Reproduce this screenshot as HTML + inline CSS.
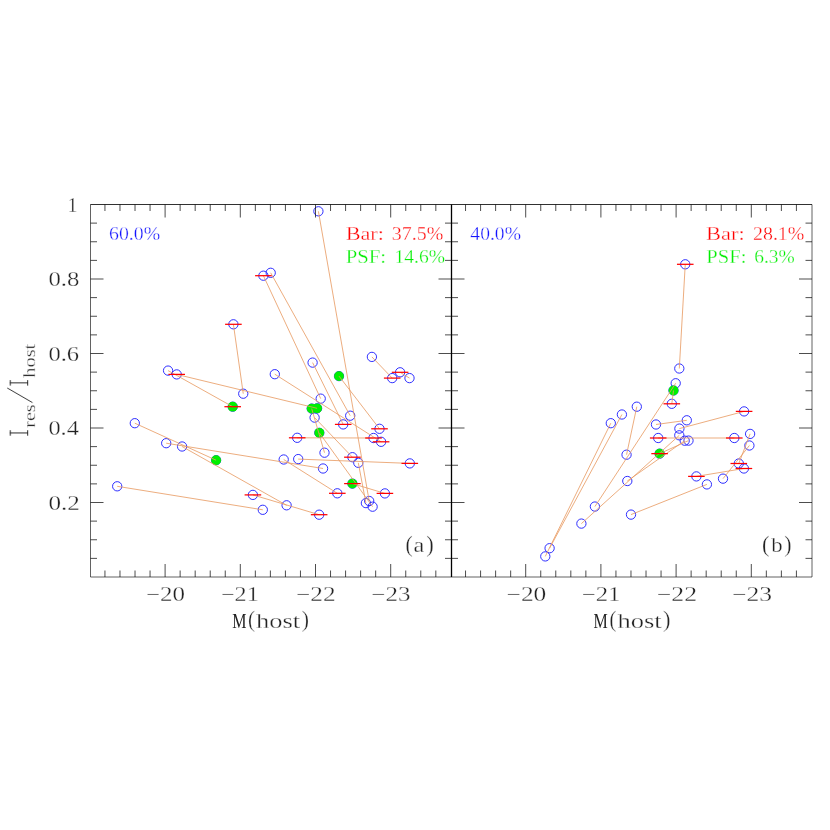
<!DOCTYPE html>
<html><head><meta charset="utf-8"><title>plot</title>
<style>
html,body{margin:0;padding:0;background:#fff;}
body{width:830px;height:830px;overflow:hidden;font-family:"Liberation Serif",serif;}
svg{display:block;}
text{font-family:"Liberation Serif",serif;}
</style></head><body>
<svg width="830" height="830" viewBox="0 0 830 830">
<rect x="0" y="0" width="830" height="830" fill="#fff"/>

<g fill="none" stroke="#2424ff" stroke-width="0.95">
<circle cx="318.4" cy="211.3" r="4.65"/>
<circle cx="263.4" cy="275.7" r="4.65"/>
<circle cx="270.7" cy="272.8" r="4.65"/>
<circle cx="233.4" cy="324.3" r="4.65"/>
<circle cx="243.25" cy="393.7" r="4.65"/>
<circle cx="168.07" cy="370.6" r="4.65"/>
<circle cx="232.7" cy="406.7" r="4.65"/>
<circle cx="176.7" cy="374.4" r="4.65"/>
<circle cx="317.1" cy="408.3" r="4.65"/>
<circle cx="274.8" cy="374.2" r="4.65"/>
<circle cx="381.1" cy="441.8" r="4.65"/>
<circle cx="312.6" cy="362.6" r="4.65"/>
<circle cx="343.2" cy="424.4" r="4.65"/>
<circle cx="371.9" cy="356.9" r="4.65"/>
<circle cx="392.2" cy="378.1" r="4.65"/>
<circle cx="400.1" cy="372.3" r="4.65"/>
<circle cx="409.5" cy="378.1" r="4.65"/>
<circle cx="339" cy="376.1" r="4.65"/>
<circle cx="379.5" cy="428.8" r="4.65"/>
<circle cx="311.7" cy="408.6" r="4.65"/>
<circle cx="324.5" cy="452.7" r="4.65"/>
<circle cx="314.6" cy="417.6" r="4.65"/>
<circle cx="352.4" cy="457.2" r="4.65"/>
<circle cx="319.3" cy="432.8" r="4.65"/>
<circle cx="372.6" cy="506.7" r="4.65"/>
<circle cx="297.2" cy="437.8" r="4.65"/>
<circle cx="373.5" cy="438" r="4.65"/>
<circle cx="134.8" cy="423.2" r="4.65"/>
<circle cx="216.1" cy="460.2" r="4.65"/>
<circle cx="166.2" cy="443.2" r="4.65"/>
<circle cx="323.05" cy="468.5" r="4.65"/>
<circle cx="182.1" cy="446.5" r="4.65"/>
<circle cx="286.6" cy="505.3" r="4.65"/>
<circle cx="117.2" cy="486.3" r="4.65"/>
<circle cx="262.8" cy="509.8" r="4.65"/>
<circle cx="283.7" cy="459.5" r="4.65"/>
<circle cx="337.3" cy="493.3" r="4.65"/>
<circle cx="298.2" cy="459.1" r="4.65"/>
<circle cx="409.8" cy="463.4" r="4.65"/>
<circle cx="252.9" cy="494.9" r="4.65"/>
<circle cx="319.15" cy="514.7" r="4.65"/>
<circle cx="352.4" cy="483.6" r="4.65"/>
<circle cx="384.9" cy="493.4" r="4.65"/>
<circle cx="358.3" cy="462.8" r="4.65"/>
<circle cx="365.9" cy="503.1" r="4.65"/>
<circle cx="320.7" cy="398.65" r="4.65"/>
<circle cx="350.2" cy="415.7" r="4.65"/>
<circle cx="369.2" cy="501" r="4.65"/>
</g>
<g fill="#00f000" stroke="none">
<circle cx="232.7" cy="406.7" r="4.9"/>
<circle cx="317.1" cy="408.3" r="4.9"/>
<circle cx="339" cy="376.1" r="4.9"/>
<circle cx="311.7" cy="408.6" r="4.9"/>
<circle cx="319.3" cy="432.8" r="4.9"/>
<circle cx="216.1" cy="460.2" r="4.9"/>
<circle cx="352.4" cy="483.6" r="4.9"/>
</g>
<g stroke="#e89a62" stroke-width="0.82" fill="none">
<line x1="318.4" y1="211.3" x2="369.2" y2="501"/>
<line x1="263.4" y1="275.7" x2="320.7" y2="398.65"/>
<line x1="270.7" y1="272.8" x2="350.2" y2="415.7"/>
<line x1="233.4" y1="324.3" x2="243.25" y2="393.7"/>
<line x1="168.07" y1="370.6" x2="232.7" y2="406.7"/>
<line x1="176.7" y1="374.4" x2="317.1" y2="408.3"/>
<line x1="274.8" y1="374.2" x2="381.1" y2="441.8"/>
<line x1="312.6" y1="362.6" x2="343.2" y2="424.4"/>
<line x1="371.9" y1="356.9" x2="392.2" y2="378.1"/>
<line x1="400.1" y1="372.3" x2="409.5" y2="378.1"/>
<line x1="339" y1="376.1" x2="379.5" y2="428.8"/>
<line x1="311.7" y1="408.6" x2="324.5" y2="452.7"/>
<line x1="314.6" y1="417.6" x2="352.4" y2="457.2"/>
<line x1="319.3" y1="432.8" x2="372.6" y2="506.7"/>
<line x1="297.2" y1="437.8" x2="373.5" y2="438"/>
<line x1="134.8" y1="423.2" x2="216.1" y2="460.2"/>
<line x1="166.2" y1="443.2" x2="323.05" y2="468.5"/>
<line x1="182.1" y1="446.5" x2="286.6" y2="505.3"/>
<line x1="117.2" y1="486.3" x2="262.8" y2="509.8"/>
<line x1="283.7" y1="459.5" x2="337.3" y2="493.3"/>
<line x1="298.2" y1="459.1" x2="409.8" y2="463.4"/>
<line x1="252.9" y1="494.9" x2="319.15" y2="514.7"/>
<line x1="352.4" y1="483.6" x2="384.9" y2="493.4"/>
<line x1="358.3" y1="462.8" x2="365.9" y2="503.1"/>
</g>
<g stroke="#ff0000" stroke-width="1.25" fill="none">
<line x1="255.1" y1="275.7" x2="271.7" y2="275.7"/>
<line x1="225.1" y1="324.3" x2="241.7" y2="324.3"/>
<line x1="224.4" y1="406.7" x2="241" y2="406.7"/>
<line x1="168.4" y1="374.4" x2="185" y2="374.4"/>
<line x1="372.8" y1="441.8" x2="389.4" y2="441.8"/>
<line x1="334.9" y1="424.4" x2="351.5" y2="424.4"/>
<line x1="383.9" y1="378.1" x2="400.5" y2="378.1"/>
<line x1="391.8" y1="372.3" x2="408.4" y2="372.3"/>
<line x1="371.2" y1="428.8" x2="387.8" y2="428.8"/>
<line x1="344.1" y1="457.2" x2="360.7" y2="457.2"/>
<line x1="288.9" y1="437.8" x2="305.5" y2="437.8"/>
<line x1="365.2" y1="438" x2="381.8" y2="438"/>
<line x1="329" y1="493.3" x2="345.6" y2="493.3"/>
<line x1="401.5" y1="463.4" x2="418.1" y2="463.4"/>
<line x1="244.6" y1="494.9" x2="261.2" y2="494.9"/>
<line x1="310.85" y1="514.7" x2="327.45" y2="514.7"/>
<line x1="344.1" y1="483.6" x2="360.7" y2="483.6"/>
<line x1="376.6" y1="493.4" x2="393.2" y2="493.4"/>
</g>
<g fill="none" stroke="#2424ff" stroke-width="0.95">
<circle cx="685.25" cy="264.3" r="4.65"/>
<circle cx="679.3" cy="368.5" r="4.65"/>
<circle cx="675.7" cy="383.25" r="4.65"/>
<circle cx="673.5" cy="390.5" r="4.65"/>
<circle cx="671.8" cy="403.8" r="4.65"/>
<circle cx="744.1" cy="411.4" r="4.65"/>
<circle cx="686.8" cy="420.3" r="4.65"/>
<circle cx="656" cy="424.5" r="4.65"/>
<circle cx="679.4" cy="428.6" r="4.65"/>
<circle cx="658.2" cy="438" r="4.65"/>
<circle cx="679.3" cy="435.3" r="4.65"/>
<circle cx="684.7" cy="440.7" r="4.65"/>
<circle cx="688.5" cy="440.6" r="4.65"/>
<circle cx="734.3" cy="438" r="4.65"/>
<circle cx="750.1" cy="433.9" r="4.65"/>
<circle cx="749.4" cy="445.5" r="4.65"/>
<circle cx="659.6" cy="453.65" r="4.65"/>
<circle cx="738.8" cy="463.5" r="4.65"/>
<circle cx="743.9" cy="468.5" r="4.65"/>
<circle cx="610.8" cy="423.2" r="4.65"/>
<circle cx="621.9" cy="414.5" r="4.65"/>
<circle cx="636.8" cy="406.7" r="4.65"/>
<circle cx="626.55" cy="454.7" r="4.65"/>
<circle cx="627.3" cy="481" r="4.65"/>
<circle cx="549.6" cy="548.2" r="4.65"/>
<circle cx="545.3" cy="556.4" r="4.65"/>
<circle cx="594.9" cy="506.55" r="4.65"/>
<circle cx="581.4" cy="523.6" r="4.65"/>
<circle cx="631" cy="514.6" r="4.65"/>
<circle cx="696.4" cy="476.4" r="4.65"/>
<circle cx="706.9" cy="484.4" r="4.65"/>
<circle cx="723" cy="478.65" r="4.65"/>
</g>
<g fill="#00f000" stroke="none">
<circle cx="673.5" cy="390.5" r="4.9"/>
<circle cx="659.6" cy="453.65" r="4.9"/>
</g>
<g stroke="#e89a62" stroke-width="0.82" fill="none">
<line x1="685.25" y1="264.3" x2="679.3" y2="368.5"/>
<line x1="675.7" y1="383.25" x2="594.9" y2="506.55"/>
<line x1="673.5" y1="390.5" x2="671.8" y2="403.8"/>
<line x1="656" y1="424.5" x2="686.8" y2="420.3"/>
<line x1="679.4" y1="428.6" x2="744.1" y2="411.4"/>
<line x1="658.2" y1="438" x2="734.3" y2="438"/>
<line x1="610.8" y1="423.2" x2="545.3" y2="556.4"/>
<line x1="621.9" y1="414.5" x2="549.6" y2="548.2"/>
<line x1="636.8" y1="406.7" x2="626.55" y2="454.7"/>
<line x1="581.4" y1="523.6" x2="679.3" y2="435.3"/>
<line x1="627.3" y1="481" x2="684.7" y2="440.7"/>
<line x1="659.6" y1="453.65" x2="688.5" y2="440.6"/>
<line x1="750.1" y1="433.9" x2="738.8" y2="463.5"/>
<line x1="749.4" y1="445.5" x2="723" y2="478.65"/>
<line x1="696.4" y1="476.4" x2="743.9" y2="468.5"/>
<line x1="706.9" y1="484.4" x2="631" y2="514.6"/>
</g>
<g stroke="#ff0000" stroke-width="1.25" fill="none">
<line x1="676.95" y1="264.3" x2="693.55" y2="264.3"/>
<line x1="663.5" y1="403.8" x2="680.1" y2="403.8"/>
<line x1="735.8" y1="411.4" x2="752.4" y2="411.4"/>
<line x1="649.9" y1="438" x2="666.5" y2="438"/>
<line x1="726" y1="438" x2="742.6" y2="438"/>
<line x1="651.3" y1="453.65" x2="667.9" y2="453.65"/>
<line x1="730.5" y1="463.5" x2="747.1" y2="463.5"/>
<line x1="735.6" y1="468.5" x2="752.2" y2="468.5"/>
<line x1="688.1" y1="476.4" x2="704.7" y2="476.4"/>
</g>
<path d="M104.94 204.5 v6.5 M104.94 577 v-6.5 M119.98 204.5 v6.5 M119.98 577 v-6.5 M135.02 204.5 v6.5 M135.02 577 v-6.5 M150.06 204.5 v6.5 M150.06 577 v-6.5 M165.1 204.5 v13 M165.1 577 v-13 M180.14 204.5 v6.5 M180.14 577 v-6.5 M195.18 204.5 v6.5 M195.18 577 v-6.5 M210.22 204.5 v6.5 M210.22 577 v-6.5 M225.26 204.5 v6.5 M225.26 577 v-6.5 M240.3 204.5 v13 M240.3 577 v-13 M255.34 204.5 v6.5 M255.34 577 v-6.5 M270.38 204.5 v6.5 M270.38 577 v-6.5 M285.42 204.5 v6.5 M285.42 577 v-6.5 M300.46 204.5 v6.5 M300.46 577 v-6.5 M315.5 204.5 v13 M315.5 577 v-13 M330.54 204.5 v6.5 M330.54 577 v-6.5 M345.58 204.5 v6.5 M345.58 577 v-6.5 M360.62 204.5 v6.5 M360.62 577 v-6.5 M375.66 204.5 v6.5 M375.66 577 v-6.5 M390.7 204.5 v13 M390.7 577 v-13 M405.74 204.5 v6.5 M405.74 577 v-6.5 M420.78 204.5 v6.5 M420.78 577 v-6.5 M435.82 204.5 v6.5 M435.82 577 v-6.5 M465.54 204.5 v6.5 M465.54 577 v-6.5 M480.58 204.5 v6.5 M480.58 577 v-6.5 M495.62 204.5 v6.5 M495.62 577 v-6.5 M510.66 204.5 v6.5 M510.66 577 v-6.5 M525.7 204.5 v13 M525.7 577 v-13 M540.74 204.5 v6.5 M540.74 577 v-6.5 M555.78 204.5 v6.5 M555.78 577 v-6.5 M570.82 204.5 v6.5 M570.82 577 v-6.5 M585.86 204.5 v6.5 M585.86 577 v-6.5 M600.9 204.5 v13 M600.9 577 v-13 M615.94 204.5 v6.5 M615.94 577 v-6.5 M630.98 204.5 v6.5 M630.98 577 v-6.5 M646.02 204.5 v6.5 M646.02 577 v-6.5 M661.06 204.5 v6.5 M661.06 577 v-6.5 M676.1 204.5 v13 M676.1 577 v-13 M691.14 204.5 v6.5 M691.14 577 v-6.5 M706.18 204.5 v6.5 M706.18 577 v-6.5 M721.22 204.5 v6.5 M721.22 577 v-6.5 M736.26 204.5 v6.5 M736.26 577 v-6.5 M751.3 204.5 v13 M751.3 577 v-13 M766.34 204.5 v6.5 M766.34 577 v-6.5 M781.38 204.5 v6.5 M781.38 577 v-6.5 M796.42 204.5 v6.5 M796.42 577 v-6.5 M90.5 558.38 h6.5 M445 558.38 h13 M812 558.38 h-6.5 M90.5 539.75 h6.5 M445 539.75 h13 M812 539.75 h-6.5 M90.5 521.12 h6.5 M445 521.12 h13 M812 521.12 h-6.5 M90.5 502.5 h13 M438.5 502.5 h26 M812 502.5 h-13 M90.5 483.88 h6.5 M445 483.88 h13 M812 483.88 h-6.5 M90.5 465.25 h6.5 M445 465.25 h13 M812 465.25 h-6.5 M90.5 446.62 h6.5 M445 446.62 h13 M812 446.62 h-6.5 M90.5 428 h13 M438.5 428 h26 M812 428 h-13 M90.5 409.38 h6.5 M445 409.38 h13 M812 409.38 h-6.5 M90.5 390.75 h6.5 M445 390.75 h13 M812 390.75 h-6.5 M90.5 372.12 h6.5 M445 372.12 h13 M812 372.12 h-6.5 M90.5 353.5 h13 M438.5 353.5 h26 M812 353.5 h-13 M90.5 334.88 h6.5 M445 334.88 h13 M812 334.88 h-6.5 M90.5 316.25 h6.5 M445 316.25 h13 M812 316.25 h-6.5 M90.5 297.62 h6.5 M445 297.62 h13 M812 297.62 h-6.5 M90.5 279 h13 M438.5 279 h26 M812 279 h-13 M90.5 260.38 h6.5 M445 260.38 h13 M812 260.38 h-6.5 M90.5 241.75 h6.5 M445 241.75 h13 M812 241.75 h-6.5 M90.5 223.12 h6.5 M445 223.12 h13 M812 223.12 h-6.5" stroke="#000" stroke-width="0.7" fill="none"/>
<path d="M90.5 204.5 H812 V577 H90.5 Z" stroke="#000" stroke-width="0.62" fill="none"/>
<path d="M90.5 204.5 H812" stroke="#000" stroke-width="0.5" fill="none"/>
<path d="M451.5 204.5 V577" stroke="#000" stroke-width="1.3" fill="none"/>
<g id="txt" opacity="0.999" stroke="#fff" stroke-width="0.3">
<text id="p60" x="109" y="240.1" font-size="18" fill="#1414ff" textLength="51.15" lengthAdjust="spacingAndGlyphs">60.0%</text>
<text id="p40" x="470.35" y="240" font-size="18" fill="#1414ff" textLength="50.65" lengthAdjust="spacingAndGlyphs">40.0%</text>
<text id="xl20" x="145.9" y="600.7" font-size="20" fill="#222" textLength="39.1" lengthAdjust="spacingAndGlyphs">−20</text>
<text id="xr20" x="506.55" y="600.8" font-size="20" fill="#222" textLength="39.8" lengthAdjust="spacingAndGlyphs">−20</text>
<text id="xl21" x="220.95" y="600.7" font-size="20" fill="#222" textLength="37.8" lengthAdjust="spacingAndGlyphs">−21</text>
<text id="xr21" x="581.7" y="600.8" font-size="20" fill="#222" textLength="38.75" lengthAdjust="spacingAndGlyphs">−21</text>
<text id="xl22" x="296" y="600.7" font-size="20" fill="#222" textLength="39.6" lengthAdjust="spacingAndGlyphs">−22</text>
<text id="xr22" x="656.85" y="600.8" font-size="20" fill="#222" textLength="40.3" lengthAdjust="spacingAndGlyphs">−22</text>
<text id="xl23" x="371.3" y="600.7" font-size="20" fill="#222" textLength="39.1" lengthAdjust="spacingAndGlyphs">−23</text>
<text id="xr23" x="732" y="600.8" font-size="20" fill="#222" textLength="40.05" lengthAdjust="spacingAndGlyphs">−23</text>
<text id="y1" x="67.5" y="211.9" font-size="20" fill="#222">1</text>
<text id="y08" x="48.45" y="286" font-size="20" fill="#222" textLength="30.95" lengthAdjust="spacingAndGlyphs">0.8</text>
<text id="y06" x="48.45" y="360.5" font-size="20" fill="#222" textLength="30.7" lengthAdjust="spacingAndGlyphs">0.6</text>
<text id="y04" x="48.45" y="435" font-size="20" fill="#222" textLength="30.45" lengthAdjust="spacingAndGlyphs">0.4</text>
<text id="y02" x="48.45" y="509.5" font-size="20" fill="#222" textLength="31.45" lengthAdjust="spacingAndGlyphs">0.2</text>
<text id="bar1a" x="345.65" y="240.2" font-size="18" fill="#ff0000" textLength="38.35" lengthAdjust="spacingAndGlyphs">Bar:</text>
<text id="bar1b" x="391.85" y="240.2" font-size="18" fill="#ff0000" textLength="51.4" lengthAdjust="spacingAndGlyphs">37.5%</text>
<text id="psf1a" x="345.65" y="262.5" font-size="18" fill="#00ee00" textLength="40.4" lengthAdjust="spacingAndGlyphs">PSF:</text>
<text id="psf1b" x="394.5" y="262.5" font-size="18" fill="#00ee00" textLength="50.55" lengthAdjust="spacingAndGlyphs">14.6%</text>
<text id="bar2a" x="706" y="240.1" font-size="18" fill="#ff0000" textLength="38.65" lengthAdjust="spacingAndGlyphs">Bar:</text>
<text id="bar2b" x="753" y="240.1" font-size="18" fill="#ff0000" textLength="51.35" lengthAdjust="spacingAndGlyphs">28.1%</text>
<text id="psf2a" x="706.25" y="262.5" font-size="18" fill="#00ee00" textLength="40.15" lengthAdjust="spacingAndGlyphs">PSF:</text>
<text id="psf2b" x="754.15" y="262.5" font-size="18" fill="#00ee00" textLength="40.6" lengthAdjust="spacingAndGlyphs">6.3%</text>
<text id="mhM1" x="232.15" y="627.7" font-size="20" fill="#222" textLength="14.25" lengthAdjust="spacingAndGlyphs" stroke="none">M</text>
<text id="mhP1" x="248" y="627" font-size="23" fill="#222" textLength="7" lengthAdjust="spacingAndGlyphs">(</text>
<text id="mhH1" x="255.95" y="627.7" font-size="20" fill="#222" textLength="44.2" lengthAdjust="spacingAndGlyphs">host</text>
<text id="mhQ1" x="301.75" y="627" font-size="23" fill="#222" textLength="7.25" lengthAdjust="spacingAndGlyphs">)</text>
<text id="mhM2" x="593.6" y="627.7" font-size="20" fill="#222" textLength="14.25" lengthAdjust="spacingAndGlyphs" stroke="none">M</text>
<text id="mhP2" x="609.5" y="627" font-size="23" fill="#222" textLength="6.75" lengthAdjust="spacingAndGlyphs">(</text>
<text id="mhH2" x="617.4" y="627.7" font-size="20" fill="#222" textLength="44.2" lengthAdjust="spacingAndGlyphs">host</text>
<text id="mhQ2" x="663" y="627" font-size="23" fill="#222" textLength="7.5" lengthAdjust="spacingAndGlyphs">)</text>
<text id="laP" x="405.5" y="551.9" font-size="23" fill="#222" textLength="7.25" lengthAdjust="spacingAndGlyphs">(</text>
<text id="laA" x="413.6" y="552.1" font-size="21" fill="#222" textLength="10.85" lengthAdjust="spacingAndGlyphs">a</text>
<text id="laQ" x="426.25" y="551.9" font-size="23" fill="#222" textLength="7.5" lengthAdjust="spacingAndGlyphs">)</text>
<text id="lbP" x="762" y="552.1" font-size="23.5" fill="#222" textLength="7.5" lengthAdjust="spacingAndGlyphs">(</text>
<text id="lbA" x="771.2" y="552.3" font-size="21" fill="#222" textLength="11.4" lengthAdjust="spacingAndGlyphs">b</text>
<text id="lbQ" x="784.25" y="552.1" font-size="23.5" fill="#222" textLength="7.25" lengthAdjust="spacingAndGlyphs">)</text>
<g id="ylab" transform="translate(28.1 436) rotate(-90)" fill="#222" stroke="#222">
<path d="M3.05 0 V-18.2 M0.3 -0.4 H5.8 M0.3 -17.8 H5.8" stroke-width="0.95" fill="none"/>
<path d="M53.15 0 V-18.2 M50.4 -0.4 H55.9 M50.4 -17.8 H55.9" stroke-width="0.95" fill="none"/>
<path d="M33.4 4.4 L48 -20.8" stroke-width="0.9" fill="none"/>
<text id="sres" x="8.2" y="7" font-size="16.5" stroke="#fff" stroke-width="0.3" textLength="23.5" lengthAdjust="spacingAndGlyphs">res</text>
<text id="shost" x="58.3" y="7" font-size="16.5" stroke="#fff" stroke-width="0.3" textLength="34" lengthAdjust="spacingAndGlyphs">host</text>
</g>
</g>
</svg>
</body></html>
